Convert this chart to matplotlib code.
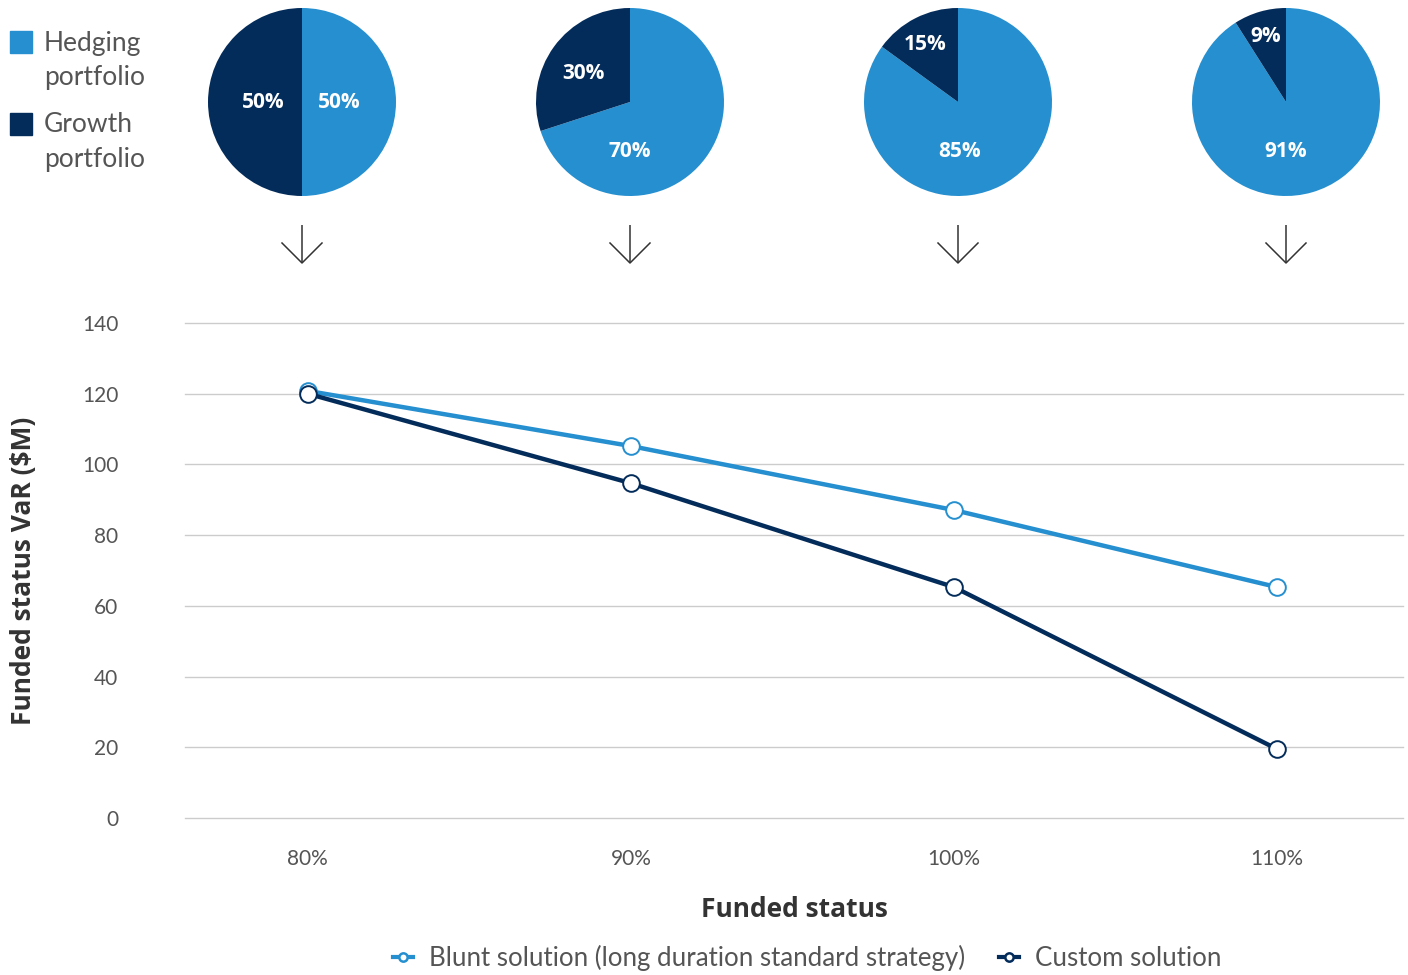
import numpy as np
import matplotlib
matplotlib.use("Agg")
import matplotlib.pyplot as plt
from matplotlib.lines import Line2D

# funded status categories and VaR ($M) per strategy
funded = ["80%", "90%", "100%", "110%"]
blunt = [120.8, 105.2, 87.1, 65.3]
custom = [120.0, 94.7, 65.3, 19.5]

# asset mix at each funded level (hedging / growth, %)
hedging = [50, 70, 85, 91]
growth = [50, 30, 15, 9]

LIGHT = "#258fcf"
DARK = "#042c5b"
GREY = "#555555"

plt.rcParams["font.family"] = ["Lato", "DejaVu Sans"]

W, H = 1408, 975
fig = plt.figure(figsize=(W / 100, H / 100), dpi=100)


def fx(px):
    return px / W


def fy(py):
    return 1 - py / H


# ---- main line chart ----
ax = fig.add_axes([fx(185), fy(818), fx(1403 - 185), fy(323) - fy(818)])
x = np.arange(len(funded))
ax.plot(x, blunt, color=LIGHT, lw=3.2, marker="o", ms=12, mfc="white",
        mec=LIGHT, mew=1.4, zorder=3, clip_on=False)
ax.plot(x, custom, color=DARK, lw=3.2, marker="o", ms=12, mfc="white",
        mec=DARK, mew=1.4, zorder=4, clip_on=False)
ax.set_xlim(-0.38, 3.39)
ax.set_ylim(0, 140)
ax.set_yticks(range(0, 141, 20))
ax.set_xticks(x)
ax.set_xticklabels(funded)
ax.grid(axis="y", color="#cccccc", lw=1)
for gl in ax.get_ygridlines():
    gl.set_clip_on(False)
ax.set_axisbelow(True)
for s in ax.spines.values():
    s.set_visible(False)
ax.tick_params(length=0, labelsize=15, labelcolor=GREY)
ax.tick_params(axis="y", pad=48)
ax.tick_params(axis="x", pad=22)
ax.set_xlabel("Funded status", fontsize=19, fontweight="bold", color="#333333",
              family=["Open Sans", "DejaVu Sans"], labelpad=20)
ax.set_ylabel("Funded status VaR ($M)", fontsize=19, fontweight="bold", color="#333333",
              family=["Open Sans", "DejaVu Sans"])
ax.yaxis.set_label_coords((37 - 185) / 1218, 0.5)

handles = [
    Line2D([], [], color=LIGHT, lw=3, marker="o", ms=6, mfc="white", mec=LIGHT, mew=1.8),
    Line2D([], [], color=DARK, lw=3, marker="o", ms=6, mfc="white", mec=DARK, mew=1.8),
]
fig.legend(handles, ["Blunt solution (long duration standard strategy)", "Custom solution"],
           loc="center", bbox_to_anchor=(fx(807), fy(958)), ncol=2, frameon=False,
           handlelength=0.8, handletextpad=0.6, columnspacing=1.3,
           prop={"size": 18.6}, labelcolor=GREY)

# ---- pies on top ----
pie_cx = [302, 630, 958, 1286]
pie_cy, R = 102, 94
# label offsets in units of the radius: (hedging label, growth label)
label_pos = [
    [(0.40, 0.0), (-0.41, 0.0)],
    [(0.0, -0.53), (-0.50, 0.30)],
    [(0.02, -0.53), (-0.35, 0.61)],
    [(0.0, -0.53), (-0.22, 0.70)],
]
for i, cx in enumerate(pie_cx):
    pax = fig.add_axes([fx(cx - R), fy(pie_cy + R), fx(2 * R), fy(pie_cy - R) - fy(pie_cy + R)])
    pax.pie([hedging[i], growth[i]], colors=[LIGHT, DARK], startangle=90,
            counterclock=False, radius=1, wedgeprops=dict(linewidth=0))
    pax.set_xlim(-1, 1)
    pax.set_ylim(-1, 1)
    pax.set_aspect("equal")
    pax.axis("off")
    for (lx, ly), v in zip(label_pos[i], [hedging[i], growth[i]]):
        pax.text(lx, ly, f"{v}%", color="white", fontsize=15, fontweight="bold",
                 ha="center", va="center", family=["Open Sans", "DejaVu Sans"])

# overlay in pixel coordinates for arrows and the portfolio key
ov = fig.add_axes([0, 0, 1, 1], zorder=-1)
ov.set_xlim(0, W)
ov.set_ylim(H, 0)
ov.axis("off")
for cx in pie_cx:
    ov.plot([cx, cx], [225, 263], color="#333333", lw=1.1, solid_capstyle="butt")
    ov.plot([cx - 20, cx, cx + 20], [243, 263, 243], color="#333333", lw=1.1)

key = [("Hedging", "portfolio", LIGHT, 31), ("Growth", "portfolio", DARK, 113)]
for l1, l2, col, top in key:
    ov.add_patch(plt.Rectangle((10, top), 22, 22, color=col))
    ov.text(44, top + 12, l1, fontsize=19, color=GREY, va="center", ha="left")
    ov.text(44, top + 47, l2, fontsize=19, color=GREY, va="center", ha="left")

fig.savefig("out.png", dpi=100)
